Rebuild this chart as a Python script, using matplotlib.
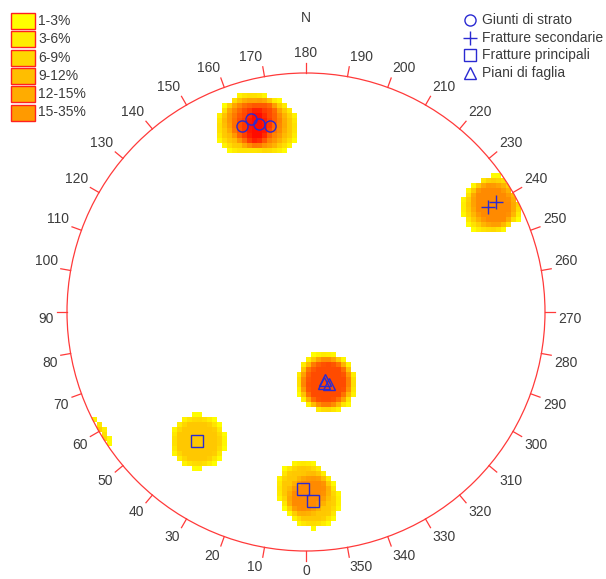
import numpy as np
import matplotlib
matplotlib.use('Agg')
import matplotlib.pyplot as plt
from matplotlib.patches import Circle, Rectangle
from matplotlib.colors import LinearSegmentedColormap

plt.rcParams['font.family'] = ['Liberation Sans', 'DejaVu Sans']

# planes: dip direction / dip (degrees), one pair of lists per family
giunti_dd = [161, 164, 166, 169]
giunti_dip = [71, 73, 70, 68]
secondarie_dd = [240, 240]
secondarie_dip = [77, 81]
principali_dd = [40, 1, 358]
principali_dip = [60, 63, 68]
faglia_dd = [344, 342, 346]
faglia_dip = [24, 26, 25]

family_names = ['Giunti di strato', 'Fratture secondarie', 'Fratture principali', 'Piani di faglia']
class_labels = ['1-3%', '3-6%', '6-9%', '9-12%', '12-15%', '15-35%']
class_colors = ['#ffff00', '#ffec00', '#ffd600', '#ffbe00', '#ffac00', '#ff9a00']

# layout in pixels
W, H = 606, 579
CX, CY, R = 306, 312, 239
textColor = '#3c3c3c'
netColor = '#ff3a3a'
markColor = '#2a2ad2'


def project(dd, dip):
	# equal-area (Schmidt) lower hemisphere, pole of the plane
	az = np.radians(np.asarray(dd) + 180.0)
	r = np.sqrt(2) * np.sin(np.radians(np.asarray(dip)) / 2)
	return r * np.sin(az), r * np.cos(az)


allDD = giunti_dd + secondarie_dd + principali_dd + faglia_dd
allDip = giunti_dip + secondarie_dip + principali_dip + faglia_dip
px, py = project(allDD, allDip)

# poles close to the primitive also count on the opposite side
pr = np.hypot(px, py)
mirror = -(2 - pr) / pr
qx = np.concatenate([px, px * mirror])
qy = np.concatenate([py, py * mirror])

# density grid: counting circle with a soft edge, in % of all poles
nc = 96
g = (np.arange(nc) + 0.5) / nc * 2 - 1
gx, gy = np.meshgrid(g, g)
dist = np.hypot(gx[..., None] - qx, gy[..., None] - qy)
rIn, rOut = 20 / R, 29 / R
w = np.clip((rOut - dist) / (rOut - rIn), 0, 1)
density = 100 * w.sum(axis=-1) / len(allDD)
density = np.ma.masked_where((density < 1) | (np.hypot(gx, gy) > 1), density)

fig = plt.figure(figsize=(W / 100, H / 100), dpi=100)
ax = fig.add_axes([0, 0, 1, 1])
ax.set_xlim(-CX / R, (W - CX) / R)
ax.set_ylim(-(H - CY) / R, CY / R)
ax.axis('off')

cmap = LinearSegmentedColormap.from_list('dens', ['#ffff00', '#ff0000'])
img = ax.imshow(density, cmap=cmap, vmin=1, vmax=35, extent=(-1, 1, -1, 1),
				origin='lower', interpolation='nearest', zorder=1)
rim = Circle((0, 0), 1, transform=ax.transData)
img.set_clip_path(rim)

ax.add_patch(Circle((0, 0), 1, fill=False, edgecolor=netColor, lw=0.9, zorder=3))

# ticks and labels, label = dip direction
tickLen = 10 / R
labR = 1 + 13 / R
for v in range(0, 360, 10):
	a = np.radians((v + 180) % 360)
	s, c = np.sin(a), np.cos(a)
	ax.plot([s, (1 + tickLen) * s], [c, (1 + tickLen) * c], color=netColor, lw=0.9, zorder=3)
	ha = 'center' if abs(s) < 0.01 else ('left' if s > 0 else 'right')
	va = 'bottom' if c > 0.01 else 'top'
	ax.text(labR * s, labR * c, str(v), fontsize=10, color=textColor, ha=ha, va=va)
ax.text(0, 294 / R, 'N', fontsize=10, color=textColor, ha='center', va='center')

styles = [('o', 8, 'none'), ('+', 10, markColor), ('s', 8, 'none'), ('^', 9, 'none')]
families = [(giunti_dd, giunti_dip), (secondarie_dd, secondarie_dip),
			(principali_dd, principali_dip), (faglia_dd, faglia_dip)]
for (dd, dip), (m, ms, fc) in zip(families, styles):
	x, y = project(dd, dip)
	ax.plot(x, y, ls='none', marker=m, ms=ms, mfc=fc, mec=markColor, mew=1, zorder=4)

# legends drawn in pixel coordinates
lg = fig.add_axes([0, 0, 1, 1], facecolor='none')
lg.set_xlim(0, W)
lg.set_ylim(H, 0)
lg.axis('off')

for i, (lab, col) in enumerate(zip(class_labels, class_colors)):
	y0 = 13 + i * 18.3
	lg.add_patch(Rectangle((11, y0), 24, 16, facecolor=col, edgecolor='#ff2020', lw=1))
	lg.text(38, y0 + 8, lab, fontsize=10, color=textColor, ha='left', va='center')

for i, (name, (m, ms, fc)) in enumerate(zip(family_names, styles)):
	y0 = 20 + i * 17.7
	lg.plot([470], [y0], ls='none', marker=m, ms=ms, mfc=fc, mec=markColor, mew=1)
	lg.text(482, y0, name, fontsize=10, color=textColor, ha='left', va='center')

fig.savefig('out.png', dpi=100)
